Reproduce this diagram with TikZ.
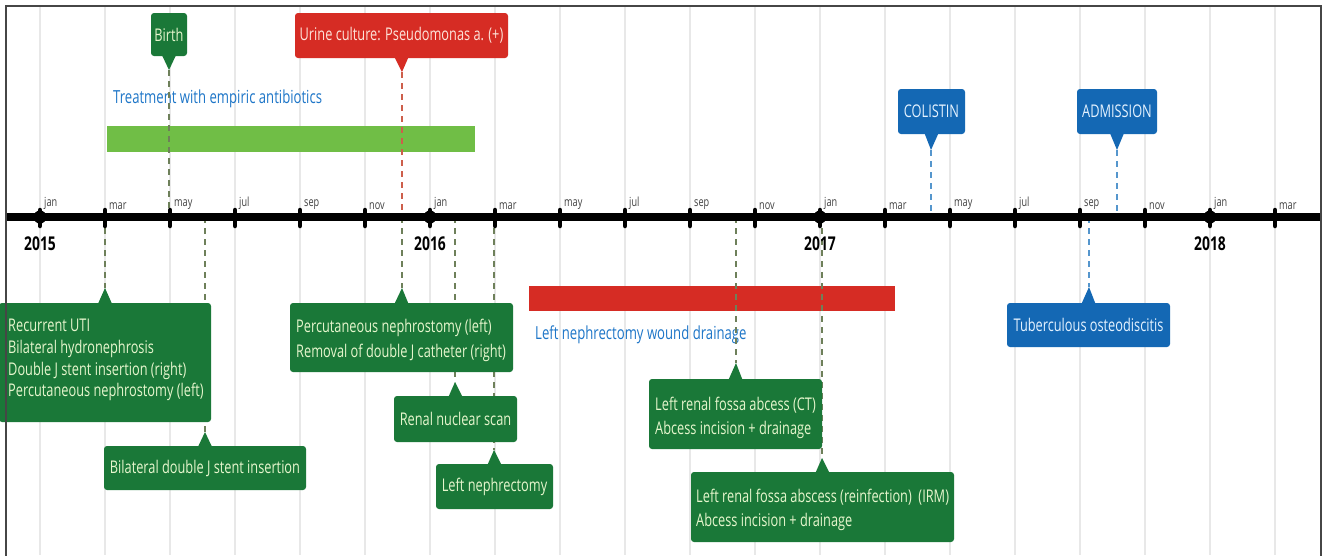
\documentclass[tikz,border=0pt]{standalone}
\usepackage{fontspec}
\setmainfont{Open Sans}[FakeStretch=0.73]
\definecolor{boxgreen}{RGB}{26,120,56}
\definecolor{bargreen}{RGB}{112,190,70}
\definecolor{boxred}{RGB}{214,44,36}
\definecolor{boxblue}{RGB}{20,104,180}
\definecolor{txtblue}{RGB}{30,118,200}
\definecolor{gridgray}{RGB}{232,232,232}
\definecolor{gtext}{RGB}{230,246,205}
\definecolor{rtext}{RGB}{253,228,218}
\definecolor{btext}{RGB}{228,242,255}
\definecolor{gdashc}{RGB}{110,128,90}
\definecolor{rdashc}{RGB}{205,95,75}
\definecolor{bdashc}{RGB}{85,150,205}
\definecolor{framec}{RGB}{70,70,70}
\begin{document}
\begin{tikzpicture}[x=1pt,y=-1pt,
  evbox/.style={rounded corners=3pt, inner sep=0pt, font=\fontsize{17.5}{22.5}\selectfont},
  gbox/.style={evbox, fill=boxgreen, text=gtext},
  rbox/.style={evbox, fill=boxred, text=rtext},
  bbox/.style={evbox, fill=boxblue, text=btext},
  gtxt/.style={anchor=west, inner sep=0pt, align=left, text=gtext},
  txtfour/.style={gtxt, font=\fontsize{17.5}{21.7}\selectfont},
  txttwo/.style={gtxt, font=\fontsize{17.5}{24.5}\selectfont},
  evdash/.style={line width=1.3pt, dash pattern=on 6pt off 5pt},
  gridline/.style={gridgray, line width=1.2pt},
  monthlbl/.style={anchor=south west, inner sep=0pt, font=\fontsize{12.5}{14}\selectfont, text=black!75},
  yearlbl/.style={anchor=center, inner sep=0pt, font=\fontsize{19}{21}\selectfont\bfseries, text=black},
  barlbl/.style={anchor=west, inner sep=0pt, font=\fontsize{18}{20}\selectfont, text=txtblue}
]
\useasboundingbox (0,0) rectangle (1326,555);
\fill[white] (0,0) rectangle (1326,555);

% grid lines
\foreach \i in {0,...,19}{
  \pgfmathsetmacro{\xx}{40+65*\i}
  \draw[gridline] (\xx,6) -- (\xx,555);
}

% duration bars
\fill[bargreen] (107,126) rectangle (475,152);
\node[barlbl] (treat) at (113,99) {Treatment with empiric antibiotics};
\fill[boxred] (529,286) rectangle (895,311);
\node[barlbl] (wound) at (535,335) {Left nephrectomy wound drainage};

% axis anchor coordinates
\coordinate (aBirth) at (169,217);
\coordinate (aUrine) at (402,217);
\coordinate (aColi) at (931,217);
\coordinate (aAdm) at (1117,217);
\coordinate (a1) at (105,217);
\coordinate (a2) at (205,217);
\coordinate (a3) at (402,217);
\coordinate (a4) at (455,217);
\coordinate (a5) at (494,217);
\coordinate (a6) at (736,217);
\coordinate (a7) at (822,217);
\coordinate (a8) at (1089,217);

% pointer tips
\coordinate (tBirth) at (169,70);
\coordinate (tUrine) at (402,72);
\coordinate (tColi) at (931,150);
\coordinate (tAdm) at (1117,150);
\coordinate (t1) at (105,288);
\coordinate (t2) at (205,432);
\coordinate (t3) at (402,288);
\coordinate (t4) at (455,382);
\coordinate (t5) at (494,450);
\coordinate (t6) at (736,363);
\coordinate (t7) at (822,458);
\coordinate (t8) at (1089,287);

% dashed connectors
\draw[evdash, gdashc] (tBirth) -- (aBirth);
\draw[evdash, rdashc] (tUrine) -- (aUrine);
\draw[evdash, bdashc] (tColi) -- (aColi);
\draw[evdash, bdashc] (tAdm) -- (aAdm);
\draw[evdash, gdashc] (a1) -- (t1);
\draw[evdash, gdashc] (a2) -- (t2);
\draw[evdash, gdashc] (a3) -- (t3);
\draw[evdash, gdashc] (a4) -- (t4);
\draw[evdash, gdashc] (a5) -- (t5);
\draw[evdash, gdashc] (a6) -- (t6);
\draw[evdash, gdashc] (a7) -- (t7);
\draw[evdash, bdashc] (a8) -- (t8);

% axis
\coordinate (axL) at (6,217);
\coordinate (axR) at (1321,217);
\draw[line width=8pt, black] (axL) -- (axR);
\foreach \i/\m in {0/jan,1/mar,2/may,3/jul,4/sep,5/nov,6/jan,7/mar,8/may,9/jul,10/sep,11/nov,12/jan,13/mar,14/may,15/jul,16/sep,17/nov,18/jan,19/mar}{
  \pgfmathsetmacro{\xx}{40+65*\i}
  \draw[line width=4.5pt, line cap=round] (\xx,210) -- (\xx,226);
  \node[monthlbl] (m\i) at (\xx+4,209.5) {\m};
}
\foreach \i/\yr in {0/2015,6/2016,12/2017,18/2018}{
  \pgfmathsetmacro{\xx}{40+65*\i}
  \fill (\xx,217) circle (6.5pt);
  \node[yearlbl] (y\yr) at (\xx,244) {\yr};
}

% top event boxes
\node[gbox, minimum width=36pt, minimum height=43pt] (birth) at (169,34.5) {Birth};
\fill[boxgreen] ([xshift=-7pt,yshift=1pt]birth.south) -- (tBirth) -- ([xshift=7pt,yshift=1pt]birth.south) -- cycle;
\node[rbox, minimum width=213pt, minimum height=45pt] (urine) at (401.5,35.5) {Urine culture: Pseudomonas a. (+)};
\fill[boxred] ([xshift=-7pt,yshift=1pt]urine.south) -- (tUrine) -- ([xshift=7pt,yshift=1pt]urine.south) -- cycle;
\node[bbox, minimum width=67pt, minimum height=45pt] (coli) at (931.5,111.5) {COLISTIN};
\fill[boxblue] ([xshift=-7pt,yshift=1pt]coli.south) -- (tColi) -- ([xshift=7pt,yshift=1pt]coli.south) -- cycle;
\node[bbox, minimum width=80pt, minimum height=45pt] (adm) at (1117,111.5) {ADMISSION};
\fill[boxblue] ([xshift=-7pt,yshift=1pt]adm.south) -- (tAdm) -- ([xshift=7pt,yshift=1pt]adm.south) -- cycle;

% bottom event boxes
\node[gbox, minimum width=212pt, minimum height=119pt] (b1) at (105,362.5) {};
\fill[boxgreen] ([xshift=-7pt,yshift=-1pt]b1.north) -- (t1) -- ([xshift=7pt,yshift=-1pt]b1.north) -- cycle;
\node[txtfour] (b1t) at (8,360)
  {Recurrent UTI\\Bilateral hydronephrosis\\Double J stent insertion (right)\\Percutaneous nephrostomy (left)};

\node[gbox, minimum width=202pt, minimum height=44pt] (b2) at (205,468) {Bilateral double J stent insertion};
\fill[boxgreen] ([xshift=-7pt,yshift=-1pt]b2.north) -- (t2) -- ([xshift=7pt,yshift=-1pt]b2.north) -- cycle;

\node[gbox, minimum width=223pt, minimum height=69pt] (b3) at (401.5,337.5) {};
\fill[boxgreen] ([xshift=-7pt,yshift=-1pt]b3.north) -- (t3) -- ([xshift=7pt,yshift=-1pt]b3.north) -- cycle;
\node[txttwo] (b3t) at (296,340.5)
  {Percutaneous nephrostomy (left)\\Removal of double J catheter (right)};

\node[gbox, minimum width=123pt, minimum height=46pt] (b4) at (455.5,419) {Renal nuclear scan};
\fill[boxgreen] ([xshift=-7pt,yshift=-1pt]b4.north) -- (t4) -- ([xshift=7pt,yshift=-1pt]b4.north) -- cycle;

\node[gbox, minimum width=117pt, minimum height=45pt] (b5) at (494.5,486.5) {Left nephrectomy};
\fill[boxgreen] ([xshift=-7pt,yshift=-1pt]b5.north) -- (t5) -- ([xshift=7pt,yshift=-1pt]b5.north) -- cycle;

\node[gbox, minimum width=173pt, minimum height=70pt] (b6) at (735.5,414) {};
\fill[boxgreen] ([xshift=-7pt,yshift=-1pt]b6.north) -- (t6) -- ([xshift=7pt,yshift=-1pt]b6.north) -- cycle;
\node[txttwo] (b6t) at (655,418)
  {Left renal fossa abcess (CT)\\Abcess incision + drainage};

\node[gbox, minimum width=263pt, minimum height=70pt] (b7) at (822.5,507) {};
\fill[boxgreen] ([xshift=-7pt,yshift=-1pt]b7.north) -- (t7) -- ([xshift=7pt,yshift=-1pt]b7.north) -- cycle;
\node[txttwo] (b7t) at (696,510)
  {Left renal fossa abscess (reinfection)~~(IRM)\\Abcess incision + drainage};

\node[bbox, minimum width=163pt, minimum height=44pt] (b8) at (1088.5,325) {Tuberculous osteodiscitis};
\fill[boxblue] ([xshift=-7pt,yshift=-1pt]b8.north) -- (t8) -- ([xshift=7pt,yshift=-1pt]b8.north) -- cycle;

% frame
\draw[framec, line width=1.5pt] (6,560) -- (6,6) -- (1321,6) -- (1321,560);
\end{tikzpicture}
\end{document}
